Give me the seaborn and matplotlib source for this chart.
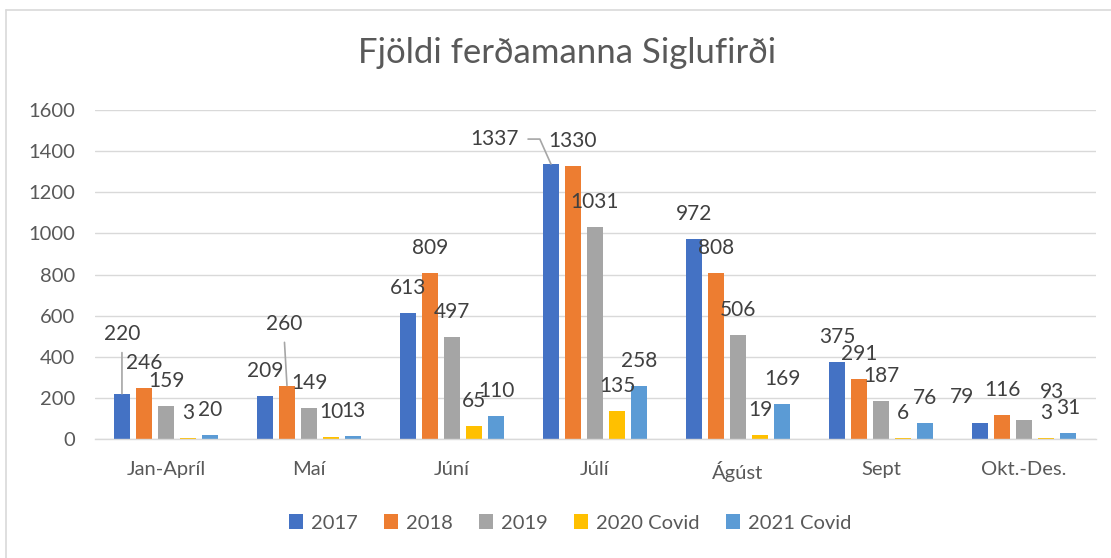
import matplotlib
matplotlib.use("Agg")
import matplotlib.pyplot as plt
import seaborn as sns
import pandas as pd
from matplotlib.patches import Patch
from matplotlib.lines import Line2D

categories = ["Jan-Apríl", "Maí", "Júní", "Júlí", "Ágúst", "Sept", "Okt.-Des."]
series = ["2017", "2018", "2019", "2020 Covid", "2021 Covid"]
v2017 = [220, 209, 613, 1337, 972, 375, 79]
v2018 = [246, 260, 809, 1330, 808, 291, 116]
v2019 = [159, 149, 497, 1031, 506, 187, 93]
v2020 = [3, 10, 65, 135, 19, 6, 3]
v2021 = [20, 13, 110, 258, 169, 76, 31]
yticks = [0, 200, 400, 600, 800, 1000, 1200, 1400, 1600]

colors = ["#4472C4", "#ED7D31", "#A5A5A5", "#FFC000", "#5B9BD5"]

rows = []
for s, vals in zip(series, [v2017, v2018, v2019, v2020, v2021]):
    for c, v in zip(categories, vals):
        rows.append({"cat": c, "series": s, "val": v})
df = pd.DataFrame(rows)

sns.set_theme(style="white")
plt.rcParams["font.family"] = ["Lato", "DejaVu Sans"]

W, H = 1111, 558
fig = plt.figure(figsize=(W / 100, H / 100), dpi=100)
ax = fig.add_axes([94.5 / W, 1 - 439 / H, 1001 / W, 329 / H])

sns.barplot(data=df, x="cat", y="val", hue="series", order=categories,
            hue_order=series, palette=colors, width=0.77, gap=0.24,
            saturation=1, linewidth=0, legend=False, ax=ax)

ax.set_xlim(-0.5, 6.5)
ax.set_ylim(0, 1600)
ax.set_yticks(yticks)
ax.set_yticklabels([str(t) for t in yticks])
ax.set_xlabel("")
ax.set_ylabel("")
ax.yaxis.grid(True, color="#d9d9d9", lw=1)
ax.set_axisbelow(True)
for sp in ["left", "right", "top"]:
    ax.spines[sp].set_visible(False)
ax.spines["bottom"].set_color("#d9d9d9")
ax.spines["bottom"].set_linewidth(1)
ax.tick_params(axis="y", length=0, labelsize=14.5, labelcolor="#595959", pad=14)
ax.tick_params(axis="x", length=0, labelsize=14.5, labelcolor="#595959", pad=16)

# label offsets (pixels) for manually moved data labels
special = {
    ("Jan-Apríl", "2017"): (0, 60, True, (0.5, 0), "arc3"),
    ("Maí", "2018"): (-3, 62, True, (0.5, 0), "arc3"),
    ("Júlí", "2017"): (-56, 25, True, (1.0, 0.5), "angle,angleA=0,angleB=114,rad=0"),
    ("Okt.-Des.", "2017"): (-18, 26, False, None, None),
    ("Okt.-Des.", "2019"): (28, 28, False, None, None),
}

for si, cont in enumerate(ax.containers):
    for ci, bar in enumerate(cont):
        x = bar.get_x() + bar.get_width() / 2
        h = bar.get_height()
        key = (categories[ci], series[si])
        dx, dy, lead, rel, cs = special.get(key, (0, 25, False, None, None))
        kw = {}
        if lead:
            kw["arrowprops"] = dict(arrowstyle="-", color="#a6a6a6", lw=1.2,
                                    shrinkA=4, shrinkB=0, relpos=rel,
                                    connectionstyle=cs)
        ax.annotate(f"{int(h)}", xy=(x, h), xytext=(dx, dy),
                    textcoords="offset pixels", ha="center", va="center",
                    fontsize=15, color="#404040", **kw)

fig.text(0.51, 1 - 53 / H, "Fjöldi ferðamanna Siglufirði", ha="center",
         va="center", fontsize=25, color="#595959")

handles = [Patch(facecolor=c, edgecolor="none", label=s) for c, s in zip(colors, series)]
leg = fig.legend(handles=handles, loc="center", bbox_to_anchor=(0.513, 1 - 523 / H),
                 ncol=5, frameon=False, fontsize=14.5, handlelength=0.7,
                 handleheight=0.7, handletextpad=0.4, columnspacing=1.3)
for t in leg.get_texts():
    t.set_color("#595959")

# chart border (left and top visible)
fig.add_artist(Line2D([6 / W, 6 / W], [0, 1 - 10 / H], transform=fig.transFigure,
                      color="#d9d9d9", lw=1.2))
fig.add_artist(Line2D([6 / W, 1], [1 - 10 / H, 1 - 10 / H], transform=fig.transFigure,
                      color="#d9d9d9", lw=1.2))

fig.savefig("out.png", dpi=100)
